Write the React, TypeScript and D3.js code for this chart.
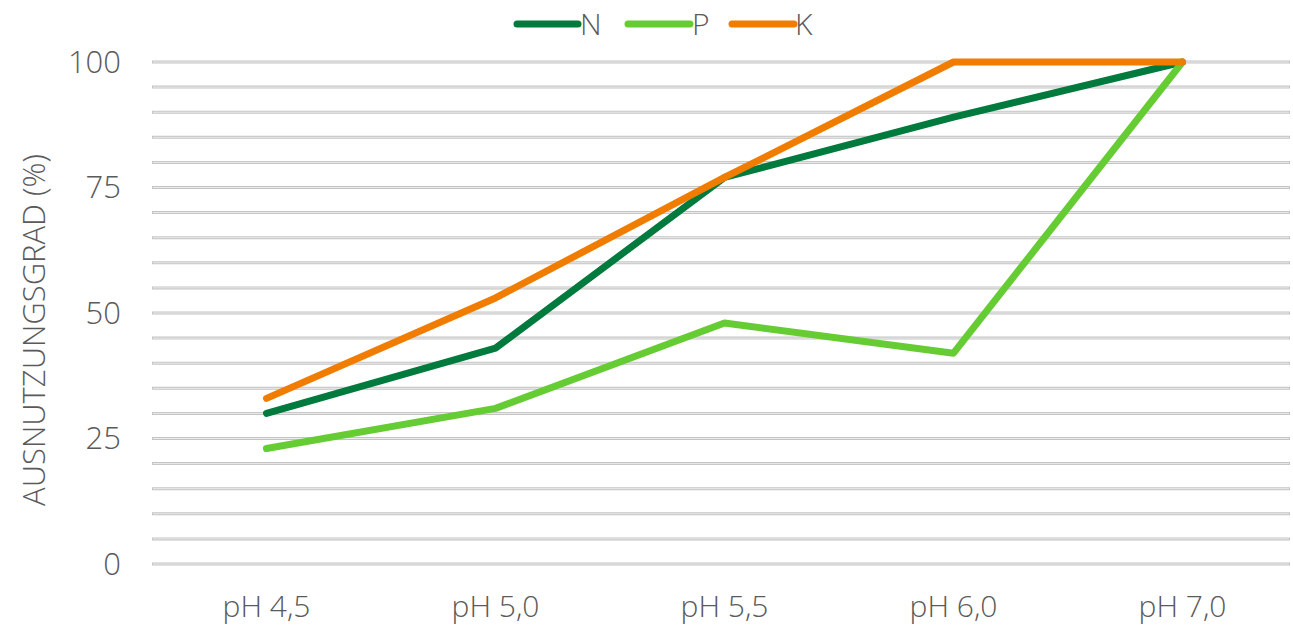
import React from "react";
import * as d3 from "d3";

const categories = ["pH 4,5", "pH 5,0", "pH 5,5", "pH 6,0", "pH 7,0"];
const seriesN = [30, 43, 77, 89, 100];
const seriesP = [23, 31, 48, 42, 100];
const seriesK = [33, 53, 77, 100, 100];
const yTicks = [0, 25, 50, 75, 100];
const gridValues = d3.range(0, 101, 5);

const series = [
  { name: "N", values: seriesN, color: "#007a3d" },
  { name: "P", values: seriesP, color: "#66cc33" },
  { name: "K", values: seriesK, color: "#f07d00" },
];

const W = 1293;
const H = 630;
const left = 152;
const right = 1297;
const top = 62;
const bottom = 564;
const FONT = "'Open Sans', 'Noto Sans', sans-serif";
const TEXT = "#5a5a5a";

export default function App() {
  const x = d3.scaleBand<string>().domain(categories).range([left, right]);
  const y = d3.scaleLinear().domain([0, 100]).range([bottom, top]);
  const line = d3
    .line<number>()
    .x((_, i) => (x(categories[i]) as number) + x.bandwidth() / 2)
    .y((d) => y(d));

  const legendItems = [
    { x1: 517, x2: 578, tx: 580 },
    { x1: 628, x2: 690, tx: 692 },
    { x1: 732, x2: 794, tx: 795 },
  ];

  return (
    <svg width={W} height={H} style={{ position: "absolute", left: 0, top: 0, background: "#fff" }}>
      {gridValues.map((v) => (
        <g key={v}>
          <line x1={left} x2={1290} y1={y(v)} y2={y(v)} stroke="#c4c4c4" strokeWidth={3} />
          <line x1={left + 1} x2={1289} y1={y(v)} y2={y(v)} stroke="#ececec" strokeWidth={1} />
        </g>
      ))}
      {yTicks.map((t) => (
        <text
          key={t}
          x={121}
          y={y(t)}
          dy="0.35em"
          textAnchor="end"
          fontFamily={FONT}
          fontWeight={300}
          fontSize={31}
          fill={TEXT}
        >
          {t}
        </text>
      ))}
      {categories.map((c) => (
        <text
          key={c}
          x={(x(c) as number) + x.bandwidth() / 2}
          y={606}
          dy="0.35em"
          textAnchor="middle"
          fontFamily={FONT}
          fontWeight={300}
          fontSize={30}
          fill={TEXT}
        >
          {c}
        </text>
      ))}
      <text
        transform={`translate(34,${330}) rotate(-90)`}
        textAnchor="middle"
        dy="0.35em"
        fontFamily={FONT}
        fontWeight={300}
        fontSize={31}
        fill={TEXT}
      >
        AUSNUTZUNGSGRAD (%)
      </text>
      {series.map((s) => (
        <path
          key={s.name}
          d={line(s.values) || ""}
          fill="none"
          stroke={s.color}
          strokeWidth={7}
          strokeLinecap="round"
          strokeLinejoin="round"
        />
      ))}
      {series.map((s, i) => (
        <g key={s.name}>
          <line
            x1={legendItems[i].x1}
            x2={legendItems[i].x2}
            y1={24}
            y2={24}
            stroke={s.color}
            strokeWidth={7}
            strokeLinecap="round"
          />
          <text
            x={legendItems[i].tx}
            y={24}
            dy="0.35em"
            fontFamily={FONT}
            fontWeight={300}
            fontSize={30}
            fill={TEXT}
          >
            {s.name}
          </text>
        </g>
      ))}
    </svg>
  );
}
